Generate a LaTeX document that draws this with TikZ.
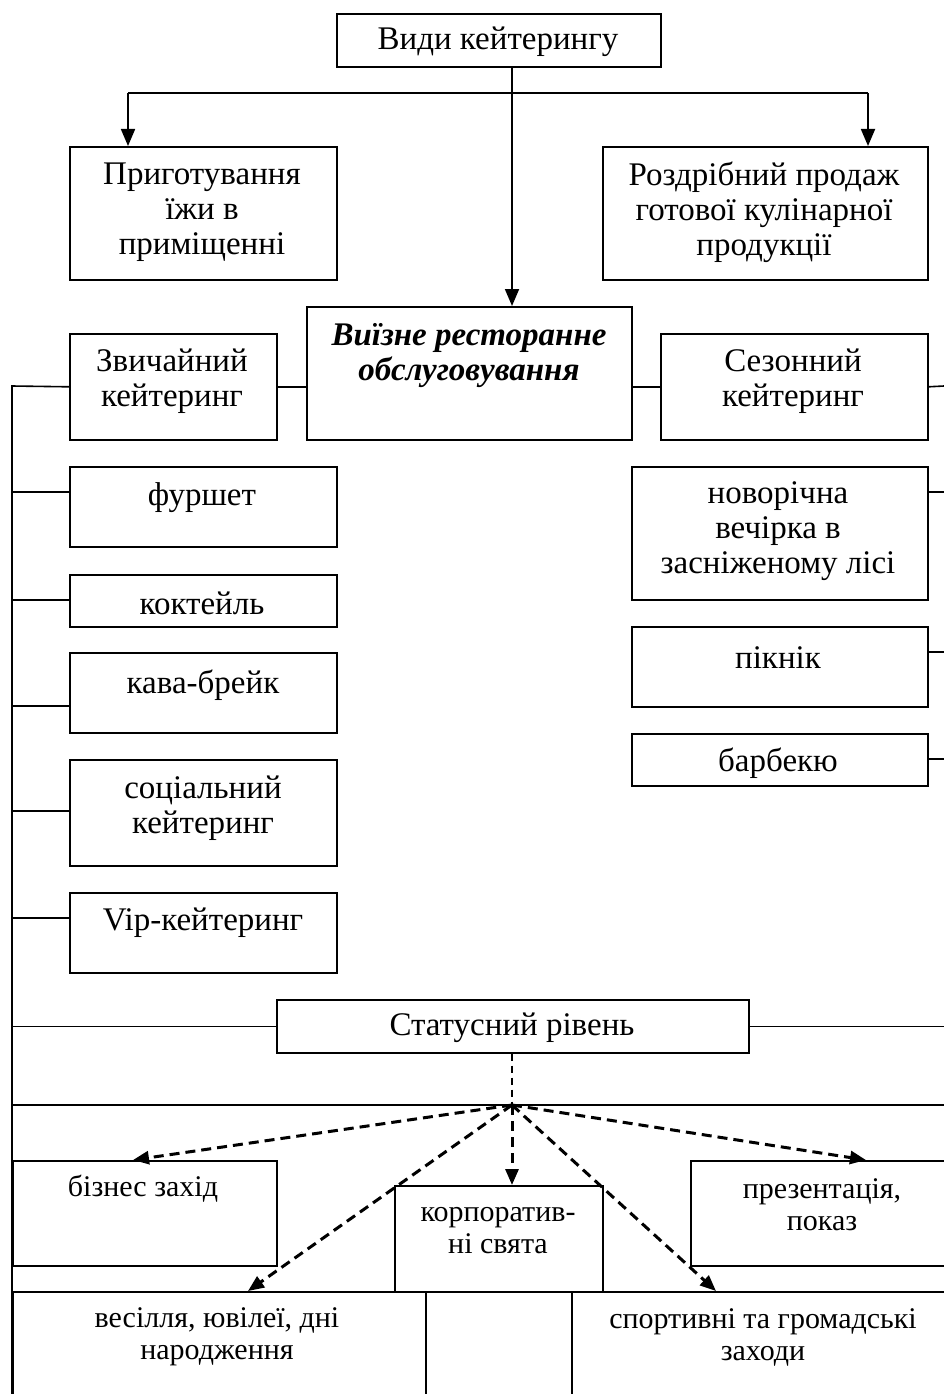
\documentclass[tikz,border=0pt]{standalone}
\usepackage{fontspec}
\setmainfont{Liberation Serif}
\usetikzlibrary{arrows.meta,calc}
\newcommand\mkbox[5]{\node[box, minimum width={(#4-#2)*1pt}, minimum height={(#5-#3)*1pt}] (#1) at (#2,#3) {};}
\begin{document}
\begin{tikzpicture}[x=1pt,y=-1pt,
  box/.style={draw, line width=1.6pt, anchor=north west, inner sep=0pt},
  txt/.style={font=\fontsize{33}{35}\selectfont, align=center, inner sep=0pt},
  stxt/.style={font=\fontsize{30}{32}\selectfont, align=center, inner sep=0pt},
  ln/.style={line width=1.6pt, line join=miter},
  arr/.style={line width=1.8pt, -{Triangle[length=17pt,width=14pt]}},
  darr/.style={line width=3pt, dash pattern=on 10pt off 6pt, -{Triangle[length=16pt,width=13pt]}},
  thdash/.style={line width=1.1pt, dash pattern=on 7pt off 5pt},
]
\useasboundingbox (0,0) rectangle (944,1394);
\fill[white] (0,0) rectangle (944,1394);

% boxes
\mkbox{vid}{336}{13}{660}{66}
\mkbox{prig}{69}{146}{336}{279}
\mkbox{rozd}{602}{146}{927}{279}
\mkbox{vyi}{306}{306}{631}{439}
\mkbox{zv}{69}{333}{276}{439}
\mkbox{sez}{660}{333}{927}{439}
\mkbox{fur}{69}{466}{336}{546}
\mkbox{kok}{69}{574}{336}{626}
\mkbox{kava}{69}{652}{336}{732}
\mkbox{soc}{69}{759}{336}{865}
\mkbox{vip}{69}{892}{336}{972}
\mkbox{nov}{631}{466}{927}{599}
\mkbox{pik}{631}{626}{927}{706}
\mkbox{bar}{631}{733}{927}{785}
\mkbox{stat}{276}{999}{748}{1052}
\mkbox{biz}{12}{1160}{276}{1265}
\mkbox{pre}{690}{1160}{952}{1265}
\mkbox{korp}{394}{1185}{602}{1291}
\mkbox{ves}{12}{1291}{425}{1420}
\mkbox{mid}{425}{1291}{571}{1420}
\mkbox{spo}{571}{1291}{952}{1420}

% texts
\node[txt] (t-vid) at (498,42) {Види кейтерингу};
\node[txt] (t-prig) at (202,212) {Приготування\\їжи в\\приміщенні};
\node[txt] (t-rozd) at (764,212) {Роздрібний продаж\\готової кулінарної\\продукції};
\node[txt, font=\fontsize{33}{35}\selectfont\bfseries\itshape] (t-vyi) at (469,356) {Виїзне ресторанне\\обслуговування};
\node[txt] (t-zv) at (172,381) {Звичайний\\кейтеринг};
\node[txt] (t-sez) at (793,381) {Сезонний\\кейтеринг};
\node[txt] (t-fur) at (202,498) {фуршет};
\node[txt] (t-kok) at (202,603) {коктейль};
\node[txt] (t-kava) at (203,685) {кава-брейк};
\node[txt] (t-soc) at (203,808) {соціальний\\кейтеринг};
\node[txt] (t-vip) at (203,923) {Vip-кейтеринг};
\node[txt] (t-nov) at (778,531) {новорічна\\вечірка в\\засніженому лісі};
\node[txt] (t-pik) at (778,658) {пікнік};
\node[txt] (t-bar) at (778,763) {барбекю};
\node[txt] (t-stat) at (512,1028) {Статусний рівень};
\node[stxt] (t-biz) at (143,1189) {бізнес захід};
\node[stxt] (t-korp) at (498,1231) {корпоратив-\\ні свята};
\node[stxt] (t-pre) at (822,1205) {презентація,\\показ};
\node[stxt] (t-ves) at (217,1337) {весілля, ювілеї, дні\\народження};
\node[stxt] (t-spo) at (763,1337) {спортивні та громадські\\заходи};

% top connectors
\coordinate (trunk) at (512,93);
\coordinate (bl) at (128,93);
\coordinate (br) at (868,93);
\draw[ln] (trunk |- vid.south) -- (trunk);
\draw[arr] (trunk) -- (trunk |- vyi.north);
\draw[ln] (bl) -- (br);
\draw[arr] (bl) -- (bl |- prig.north);
\draw[arr] (br) -- (br |- rozd.north);

% spines
\coordinate (sp) at (12,386);
\coordinate (spb) at (12,1420);
\coordinate (re) at (944,386);
\draw[ln] (zv.west) -- (sp) -- (spb);
\draw[ln] (zv.east) -- (zv.east -| vyi.west);
\draw[ln] (sez.west) -- (sez.west -| vyi.east);
\draw[ln] (sez.east) -- (re);
\foreach \n/\yy in {fur/492, kok/600, kava/706, soc/811, vip/918}
  \draw[ln] (sp |- 0,\yy) -- (\n.west |- 0,\yy);
\foreach \n/\yy in {nov/492, pik/652, bar/759}
  \draw[ln] (\n.east |- 0,\yy) -- (re |- 0,\yy);
\draw[ln] (sp |- stat.west) -- (stat.west);
\draw[ln] (stat.east) -- (re |- stat.east);

% hub
\coordinate (hub) at (512,1105);
\draw[ln] (sp |- hub) -- (re |- hub);
\draw[thdash] (stat.south -| hub) -- (hub);
\coordinate (tbiz) at (133,1160);
\coordinate (tpre) at (866,1160);
\coordinate (tves) at (248,1291);
\coordinate (tspo) at (716,1291);
\draw[darr] (hub) -- (tbiz);
\draw[darr] (hub) -- (tpre);
\draw[darr] (hub) -- (tves);
\draw[darr] (hub) -- (tspo);
\draw[darr] (hub) -- (hub |- korp.north);
\end{tikzpicture}
\end{document}
